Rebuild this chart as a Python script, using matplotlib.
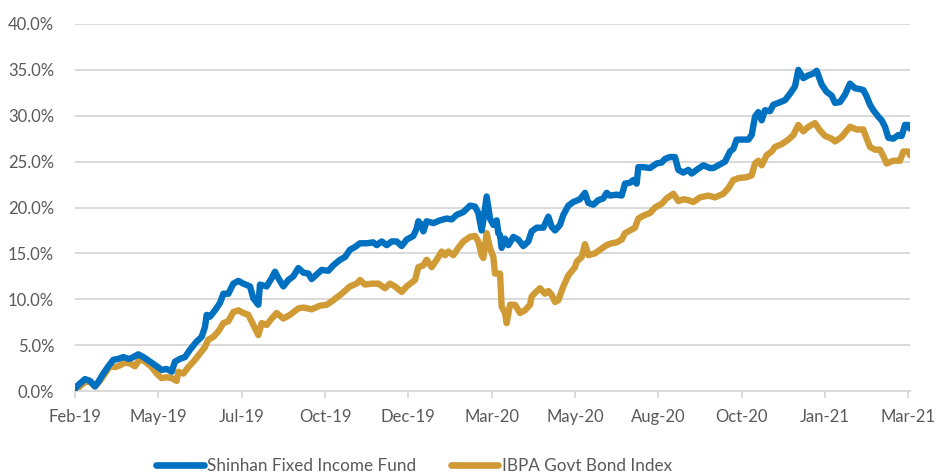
import matplotlib
matplotlib.use("Agg")
import matplotlib.pyplot as plt
from matplotlib.ticker import FuncFormatter, FixedLocator

plt.rcParams['font.family'] = ['Lato', 'DejaVu Sans']

# trading-day index (0 = Feb-19, 500 = Mar-21) and cumulative return in %
fund_days = [0, 1, 6, 9, 12, 14, 17, 20, 23, 26, 29, 32, 34, 38, 41, 45, 49, 52, 55, 58,
             60, 63, 66, 69, 73, 76, 78, 79, 81, 84, 87, 89, 92, 95, 98, 101, 105, 107, 110, 111,
             115, 118, 120, 122, 125, 128, 131, 134, 137, 140, 142, 145, 148, 152, 155, 159, 162, 165, 168, 171,
             175, 179, 181, 184, 187, 190, 193, 196, 199, 203, 205, 206, 208, 209, 211, 215, 219, 223, 226, 229,
             233, 237, 240, 242, 244, 245, 247, 249, 251, 253, 254, 255, 256, 258, 260, 263, 266, 269, 272, 274,
             277, 281, 284, 286, 288, 291, 293, 296, 299, 303, 306, 308, 311, 314, 317, 319, 321, 325, 328, 330,
             333, 335, 337, 338, 341, 345, 349, 352, 354, 357, 360, 362, 365, 368, 370, 373, 377, 381, 383, 386,
             390, 393, 395, 397, 400, 404, 406, 408, 410, 412, 414, 417, 419, 422, 426, 429, 432, 434, 437, 440,
             443, 445, 448, 451, 454, 456, 459, 462, 465, 468, 471, 473, 475, 477, 479, 482, 484, 486, 488, 491,
             494, 496, 498, 500, 501]
fund_vals = [0.2, 0.5, 1.3, 1.1, 0.5, 1.0, 1.9, 2.7, 3.4, 3.5, 3.7, 3.5, 3.6, 4.0, 3.7, 3.2, 2.7, 2.3, 2.4, 2.1,
             3.2, 3.5, 3.7, 4.5, 5.4, 5.9, 7.0, 8.3, 8.1, 8.8, 9.6, 10.6, 10.6, 11.7, 12.0, 11.7, 11.4, 10.1, 9.4, 11.6,
             11.4, 12.3, 13.0, 12.3, 11.4, 12.1, 12.5, 13.4, 12.9, 12.8, 12.2, 12.7, 13.2, 13.1, 13.7, 14.3, 14.6, 15.4, 15.7, 16.1,
             16.1, 16.2, 15.9, 16.3, 15.9, 16.3, 16.3, 15.8, 16.5, 16.9, 17.7, 18.5, 18.1, 17.4, 18.5, 18.3, 18.6, 18.8, 18.7, 19.2,
             19.5, 20.2, 20.1, 19.4, 17.5, 18.6, 21.2, 18.8, 18.1, 18.6, 17.2, 17.0, 15.6, 16.6, 15.9, 16.8, 16.5, 15.8, 16.3, 17.4,
             17.8, 17.8, 19.0, 17.9, 17.5, 18.1, 19.2, 20.2, 20.6, 20.9, 21.6, 20.5, 20.3, 20.8, 21.0, 21.6, 21.3, 21.4, 21.3, 22.6,
             22.7, 23.0, 22.6, 24.4, 24.4, 24.3, 24.8, 24.9, 25.3, 25.5, 25.5, 24.1, 23.8, 24.1, 23.7, 24.1, 24.6, 24.3, 24.3, 24.6,
             25.0, 26.1, 26.4, 27.4, 27.4, 27.4, 27.9, 29.9, 30.4, 29.5, 30.6, 30.5, 31.2, 31.4, 31.7, 32.4, 33.2, 35.0, 34.1, 34.4,
             34.6, 34.9, 33.4, 32.6, 32.2, 31.4, 31.5, 32.3, 33.5, 33.0, 32.9, 32.8, 32.1, 31.2, 30.6, 29.9, 29.5, 28.8, 27.6, 27.5,
             27.9, 27.8, 29.0, 29.0, 28.6]

index_days = [0, 1, 6, 9, 12, 15, 18, 21, 24, 27, 30, 33, 36, 39, 42, 46, 49, 52, 55, 58,
              61, 62, 65, 68, 72, 75, 78, 80, 83, 86, 89, 92, 95, 98, 101, 104, 107, 110, 112, 115,
              118, 121, 125, 129, 134, 137, 142, 147, 151, 155, 160, 165, 169, 171, 174, 178, 182, 186, 189, 192,
              196, 199, 204, 206, 209, 211, 214, 217, 220, 222, 224, 227, 230, 233, 237, 240, 242, 244, 245, 247,
              249, 251, 252, 255, 256, 258, 259, 261, 264, 267, 270, 273, 274, 276, 279, 282, 284, 286, 288, 290,
              293, 296, 300, 301, 304, 306, 308, 312, 315, 319, 322, 325, 328, 330, 333, 336, 338, 341, 345, 348,
              352, 355, 359, 362, 365, 368, 371, 375, 380, 384, 389, 392, 395, 398, 403, 406, 408, 410, 412, 415,
              418, 420, 424, 428, 431, 434, 437, 440, 444, 447, 450, 454, 456, 460, 465, 469, 473, 475, 477, 480,
              483, 485, 487, 491, 495, 497, 500, 501]
index_vals = [0.1, 0.2, 1.0, 1.0, 0.5, 1.1, 1.9, 2.7, 2.6, 2.8, 3.1, 3.0, 2.7, 3.5, 3.2, 2.6, 1.9, 1.4, 1.5, 1.4,
              1.1, 2.1, 1.9, 2.6, 3.4, 4.1, 4.8, 5.6, 5.9, 6.5, 7.4, 7.6, 8.6, 8.8, 8.5, 8.3, 7.2, 6.1, 7.4, 7.2,
              7.9, 8.5, 7.9, 8.3, 9.0, 9.1, 8.9, 9.3, 9.4, 9.9, 10.6, 11.4, 11.7, 12.1, 11.6, 11.7, 11.7, 11.2, 11.7, 11.4,
              10.8, 11.4, 12.1, 13.5, 13.7, 14.3, 13.5, 14.3, 15.2, 14.8, 15.2, 14.8, 15.6, 16.3, 16.8, 16.9, 16.3, 14.8, 14.5, 17.2,
              15.6, 14.6, 12.8, 12.8, 9.2, 8.5, 7.4, 9.4, 9.4, 8.5, 8.8, 9.4, 10.3, 10.7, 11.2, 10.6, 10.9, 10.5, 9.7, 9.9,
              11.4, 12.6, 13.5, 14.1, 14.6, 16.0, 14.8, 15.0, 15.4, 15.9, 16.1, 16.2, 16.5, 17.2, 17.5, 17.8, 18.8, 19.1, 19.4, 20.0,
              20.4, 21.0, 21.5, 20.7, 20.9, 20.8, 20.6, 21.1, 21.3, 21.1, 21.5, 22.1, 23.0, 23.2, 23.3, 23.5, 24.8, 25.1, 24.6, 25.7,
              26.1, 26.6, 26.9, 27.4, 27.9, 29.0, 28.3, 28.8, 29.2, 28.4, 27.8, 27.5, 27.2, 27.7, 28.8, 28.5, 28.5, 27.5, 26.6, 26.3,
              26.3, 25.6, 24.8, 25.1, 25.1, 26.1, 26.1, 25.7]

tick_days = [0, 50, 100, 150, 200, 250, 300, 350, 400, 450, 500]
tick_labels = ["Feb-19", "May-19", "Jul-19", "Oct-19", "Dec-19", "Mar-20",
               "May-20", "Aug-20", "Oct-20", "Jan-21", "Mar-21"]
y_ticks = [0, 5, 10, 15, 20, 25, 30, 35, 40]

series_names = ["Shinhan Fixed Income Fund", "IBPA Govt Bond Index"]
colors = ["#0070C0", "#D09A35"]

fig = plt.figure(figsize=(9.39, 4.75), dpi=100)
ax = fig.add_axes([75/939, 84/475, (910-75)/939, (391-24)/475])

ax.plot(fund_days, fund_vals, color=colors[0], lw=4.6, solid_joinstyle='round',
        solid_capstyle='round', label=series_names[0], zorder=3)
ax.plot(index_days, index_vals, color=colors[1], lw=4.6, solid_joinstyle='round',
        solid_capstyle='round', label=series_names[1], zorder=2)

ax.set_xlim(0, 501)
ax.set_ylim(0, 40)
ax.yaxis.set_major_locator(FixedLocator(y_ticks))
ax.yaxis.set_major_formatter(FuncFormatter(lambda v, p: f"{v:.1f}%"))
ax.set_xticks(tick_days)
ax.set_xticklabels(tick_labels)

ax.grid(axis='y', color='#D9D9D9', lw=1.4, zorder=0)
ax.set_axisbelow(True)
for s in ['top', 'right', 'left']:
    ax.spines[s].set_visible(False)
ax.spines['bottom'].set_color('#D9D9D9')
ax.spines['bottom'].set_linewidth(1.4)

ax.tick_params(axis='y', length=0, labelsize=12, labelcolor='#595959', pad=15)
ax.tick_params(axis='x', length=5, width=1.4, color='#D9D9D9', labelsize=12,
               labelcolor='#595959', pad=8)

leg = fig.legend(loc='center', bbox_to_anchor=(414/939, 1 - 466/475), ncol=2, frameon=False,
                 fontsize=12.3, handlelength=2.8, handletextpad=0.2, columnspacing=2.0)
for t in leg.get_texts():
    t.set_color('#595959')
for h in leg.get_lines():
    h.set_linewidth(4.8)

fig.savefig("out.png", dpi=100)
